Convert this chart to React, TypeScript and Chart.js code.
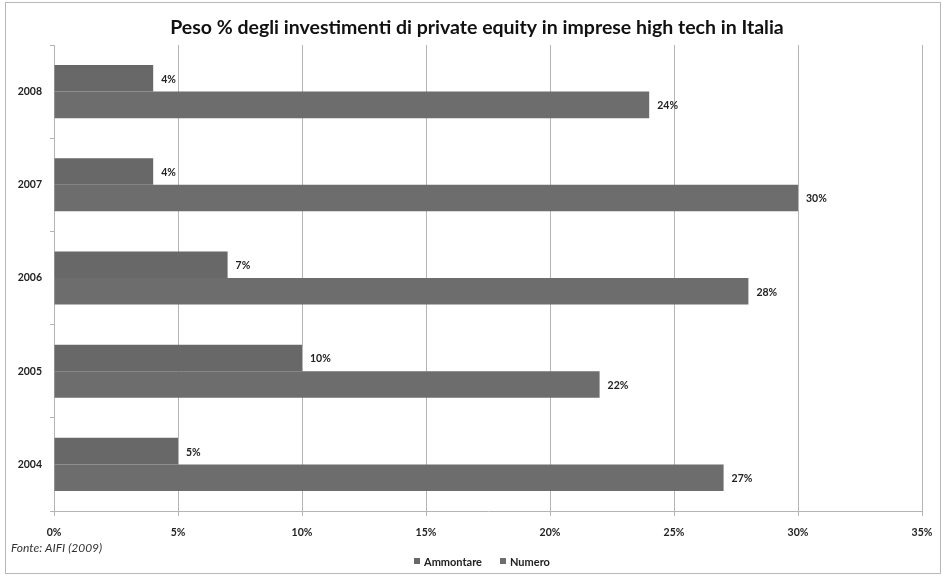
import React, { useEffect, useRef } from "react";
import { Chart, registerables } from "chart.js";

Chart.register(...registerables);

const years = ["2008", "2007", "2006", "2005", "2004"];
const ammontare = [4, 4, 7, 10, 5];
const numero = [24, 30, 28, 22, 27];
const xTicks = [0, 5, 10, 15, 20, 25, 30, 35];
const seriesNames = ["Ammontare", "Numero"];
const titleText = "Peso % degli investimenti di private equity in imprese high tech in Italia";
const sourceText = "Fonte: AIFI (2009)";

const FONT = "Lato, 'Open Sans', sans-serif";
const C1 = "#686868";
const C2 = "#6d6d6d";

const decorPlugin = {
  id: "decor",
  afterDatasetsDraw(chart: any) {
    const ctx = chart.ctx;
    ctx.save();
    ctx.fillStyle = "#222";
    ctx.font = `bold 10.5px ${FONT}`;
    ctx.textAlign = "left";
    ctx.textBaseline = "middle";
    chart.data.datasets.forEach((ds: any, di: number) => {
      const meta = chart.getDatasetMeta(di);
      meta.data.forEach((bar: any, i: number) => {
        ctx.fillText(ds.data[i] + "%", bar.x + 8, bar.y + 1);
      });
    });
    // title
    ctx.font = `bold 19.5px ${FONT}`;
    ctx.textAlign = "center";
    ctx.fillStyle = "#111";
    ctx.fillText(titleText, 477, 28);
    // source
    ctx.font = `italic 12px ${FONT}`;
    ctx.textAlign = "left";
    ctx.fillStyle = "#333";
    ctx.fillText(sourceText, 11, 548);
    // legend
    ctx.font = `bold 11px ${FONT}`;
    const items = [
      { x: 414, color: C1, text: seriesNames[0] },
      { x: 500, color: C2, text: seriesNames[1] },
    ];
    items.forEach((it) => {
      ctx.fillStyle = it.color;
      ctx.fillRect(it.x, 558, 6, 6);
      ctx.fillStyle = "#222";
      ctx.fillText(it.text, it.x + 10, 562);
    });
    ctx.restore();
  },
};

export default function App() {
  const ref = useRef<HTMLCanvasElement>(null);
  useEffect(() => {
    if (!ref.current) return;
    const chart = new Chart(ref.current, {
      type: "bar",
      data: {
        labels: years,
        datasets: [
          { label: seriesNames[0], data: ammontare, backgroundColor: C1, barPercentage: 1, categoryPercentage: 0.57 },
          { label: seriesNames[1], data: numero, backgroundColor: C2, barPercentage: 1, categoryPercentage: 0.57 },
        ],
      },
      options: {
        indexAxis: "y",
        animation: false,
        responsive: true,
        maintainAspectRatio: false,
        layout: { padding: { left: 0, right: 23, top: 45, bottom: 0 } },
        plugins: { legend: { display: false }, title: { display: false }, tooltip: { enabled: false } },
        scales: {
          x: {
            min: 0,
            max: 35,
            afterBuildTicks: (axis: any) => {
              axis.ticks = xTicks.map((v) => ({ value: v }));
            },
            afterFit: (axis: any) => {
              axis.height = 67;
            },
            ticks: {
              callback: (v: any) => v + "%",
              font: { family: FONT, size: 10.5, weight: "bold" },
              color: "#222",
              padding: 10,
              maxRotation: 0,
            },
            grid: { color: "#b4b4b4", lineWidth: 1, tickLength: 5 },
            border: { color: "#b4b4b4", width: 1 },
          },
          y: {
            afterFit: (axis: any) => {
              axis.width = 54;
            },
            ticks: {
              font: { family: FONT, size: 10.5, weight: "bold" },
              color: "#222",
              padding: 8,
            },
            grid: { display: true, drawOnChartArea: false, offset: true, color: "#b4b4b4", tickLength: 4 },
            border: { color: "#b4b4b4", width: 1 },
          },
        },
      },
      plugins: [decorPlugin],
    });
    return () => chart.destroy();
  }, []);
  return (
    <div
      style={{
        position: "fixed",
        left: 0,
        top: 0,
        width: 945,
        height: 578,
        background: "#fff",
      }}
    >
      <div
        style={{
          position: "absolute",
          left: 5,
          top: 2,
          width: 936,
          height: 572,
          border: "1px solid #b8b8b8",
          boxSizing: "border-box",
        }}
      />
      <div style={{ position: "absolute", left: 0, top: 0, width: 945, height: 578 }}>
        <canvas ref={ref} />
      </div>
    </div>
  );
}
